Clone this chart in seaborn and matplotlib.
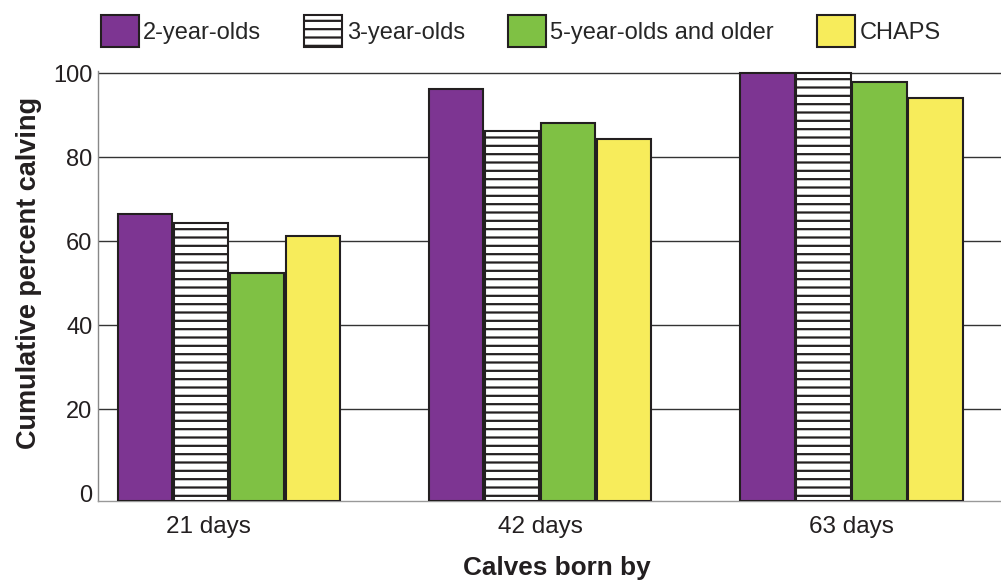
import matplotlib
matplotlib.use("Agg")
import matplotlib.pyplot as plt
import matplotlib.transforms as mtransforms
import pandas as pd
import seaborn as sns

# data
days = ["21 days", "42 days", "63 days"]
groups = ["2-year-olds", "3-year-olds", "5-year-olds and older", "CHAPS"]
two_year = [66.5, 96.2, 100.0]
three_year = [64.3, 86.3, 100.0]
five_plus = [52.3, 88.0, 97.8]
chaps = [61.3, 84.2, 94.0]

colors = ["#7d3592", "#ffffff", "#7fc144", "#f7ec5b"]
edge = "#231f20"

sns.set_theme(style="white")
plt.rcParams["font.family"] = ["Liberation Sans", "DejaVu Sans"]
plt.rcParams["hatch.linewidth"] = 1.6
plt.rcParams["hatch.color"] = edge

df = pd.DataFrame({
    "day": days * 4,
    "group": [g for g in groups for _ in days],
    "pct": two_year + three_year + five_plus + chaps,
})

fig = plt.figure(figsize=(10.01, 5.86), dpi=100)
ax = fig.add_axes([0.098, 0.145, 0.902, 0.734])

sns.barplot(data=df, x="day", y="pct", hue="group", order=days,
            hue_order=groups, palette=colors, width=0.72, gap=0.03,
            edgecolor=edge, linewidth=1.5, saturation=1, ax=ax, legend=False,
            zorder=3)

# bars run down to the axis line, a little below zero
ymin = -1.9
for c in ax.containers:
    for p in c.patches:
        h = p.get_height()
        p.set_y(ymin)
        p.set_height(h - ymin)
for p in ax.containers[1].patches:
    p.set_hatch("--")

ax.set_ylim(ymin, 100.5)
ax.set_xlim(-0.42, 2.48)
ax.set_yticks([0, 20, 40, 60, 80, 100])
ax.yaxis.grid(True, color="#333333", linewidth=1.0, zorder=0)
ax.yaxis.get_gridlines()[0].set_visible(False)
ax.set_axisbelow(True)
ax.tick_params(axis="y", length=0, labelsize=17, colors="#231f20", pad=4)
ax.tick_params(axis="x", length=0, labelsize=17.5, colors="#231f20", pad=11)
for s in ["top", "right"]:
    ax.spines[s].set_visible(False)
ax.spines["left"].set_color("#888888")
ax.spines["bottom"].set_color("#999999")
ax.spines["left"].set_linewidth(1.0)
ax.spines["bottom"].set_linewidth(1.0)

# the first category label sits a bit left of its group in the original
first = ax.get_xticklabels()[0]
first.set_transform(first.get_transform() +
                    mtransforms.ScaledTranslation(-0.2, 0, fig.dpi_scale_trans))

ax.set_xlabel("Calves born by", fontsize=18.8, fontweight="bold",
              color="#231f20")
ax.xaxis.set_label_coords(0.508, -0.128)
ax.set_ylabel("Cumulative percent calving", fontsize=19.5, fontweight="bold",
              color="#231f20")
ax.yaxis.set_label_coords(-0.062, 0.53)

fig.legend(ax.containers, groups, loc="upper left",
           bbox_to_anchor=(0.083, 1.005), ncol=4, frameon=False, fontsize=17,
           handlelength=1.6, handleheight=1.75, handletextpad=0.2,
           columnspacing=1.82, borderaxespad=0.35)

fig.savefig("out.png", dpi=100)
